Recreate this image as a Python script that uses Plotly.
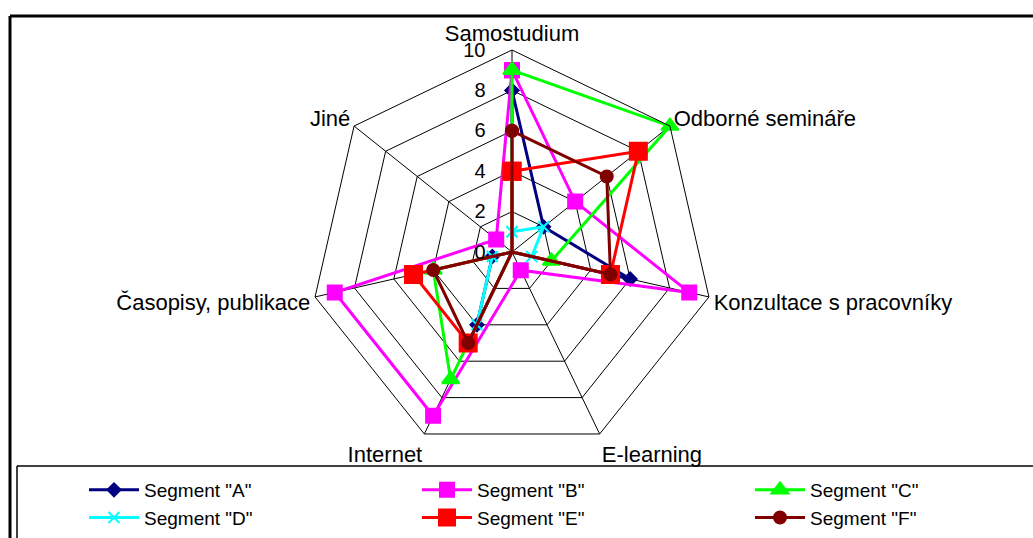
import plotly.graph_objects as go

# Categories around the radar (clockwise from the top)
categories = [
    "Samostudium",
    "Odborné semináře",
    "Konzultace s pracovníky",
    "E-learning",
    "Internet",
    "Časopisy, publikace",
    "Jiné",
]

# Scores per segment, in category order
seg_a = [8, 2, 6, 0, 4, 1, 0]
seg_b = [9, 4, 9, 1, 9, 9, 1]
seg_c = [9, 10, 2, 0, 7, 4, 0]
seg_d = [1, 2, 1, 0, 4, 1, 0]
seg_e = [4, 8, 5, 0, 5, 5, 0]
seg_f = [6, 6, 5, 0, 5, 4, 0]

series_names = ['Segment "A"', 'Segment "B"', 'Segment "C"',
                'Segment "D"', 'Segment "E"', 'Segment "F"']
series_values = [seg_a, seg_b, seg_c, seg_d, seg_e, seg_f]

radial_ticks = [0, 2, 4, 6, 8, 10]

styles = [
    dict(color="#000080", symbol="diamond", size=10),
    dict(color="#FF00FF", symbol="square", size=14),
    dict(color="#00FF00", symbol="triangle-up", size=15),
    dict(color="#00FFFF", symbol="x-thin-open", size=11),
    dict(color="#FF0000", symbol="square", size=17),
    dict(color="#800000", symbol="circle", size=12),
]

W, H = 1033, 538
FONT = "Liberation Sans, Arial, sans-serif"

fig = go.Figure()
for name, vals, st in zip(series_names, series_values, styles):
    fig.add_trace(go.Scatterpolar(
        r=vals + vals[:1],
        theta=categories + categories[:1],
        name=name,
        mode="lines+markers",
        line=dict(color=st["color"], width=3),
        marker=dict(symbol=st["symbol"], size=st["size"], color=st["color"],
                    line=dict(color=st["color"], width=2)),
    ))

# polar placement (pixels -> paper fractions)
cx, cy, R = 512, 252, 202
fig.update_layout(
    width=W, height=H,
    margin=dict(l=0, r=0, t=0, b=0, autoexpand=False),
    paper_bgcolor="white",
    plot_bgcolor="white",
    font=dict(family=FONT, color="black"),
    polar=dict(
        domain=dict(x=[(cx - R) / W, (cx + R) / W],
                    y=[1 - (cy + R) / H, 1 - (cy - R) / H]),
        bgcolor="white",
        gridshape="linear",
        radialaxis=dict(
            range=[0, 10],
            tickvals=radial_ticks,
            angle=90,
            tickangle=90,
            side="counterclockwise",
            showline=False,
            ticks="outside",
            ticklen=19,
            tickcolor="rgba(0,0,0,0)",
            gridcolor="black",
            gridwidth=1,
            tickfont=dict(size=20, color="black", family=FONT),
        ),
        angularaxis=dict(
            direction="clockwise",
            rotation=90,
            showline=True,
            linecolor="black",
            linewidth=1,
            gridcolor="black",
            gridwidth=1,
            ticks="",
            tickfont=dict(size=22, color="black", family=FONT),
        ),
    ),
    showlegend=True,
    legend=dict(
        orientation="h",
        x=84 / W, xanchor="left",
        y=1 - 471 / H, yanchor="top",
        itemwidth=50,
        entrywidth=268,
        entrywidthmode="pixels",
        font=dict(size=19, family=FONT, color="black"),
        bgcolor="rgba(0,0,0,0)",
        tracegroupgap=0,
        itemclick=False,
    ),
    shapes=[
        # outer frame (left and top edges)
        dict(type="line", xref="paper", yref="paper",
             x0=10 / W, x1=10 / W, y0=0, y1=1 - 16 / H,
             line=dict(color="black", width=3)),
        dict(type="line", xref="paper", yref="paper",
             x0=10 / W, x1=1, y0=1 - 16 / H, y1=1 - 16 / H,
             line=dict(color="black", width=3)),
        # legend box (left and top edges)
        dict(type="line", xref="paper", yref="paper",
             x0=17 / W, x1=17 / W, y0=0, y1=1 - 466 / H,
             line=dict(color="black", width=1.5)),
        dict(type="line", xref="paper", yref="paper",
             x0=17 / W, x1=1, y0=1 - 466 / H, y1=1 - 466 / H,
             line=dict(color="black", width=1.5)),
    ],
)

fig.write_html("out.html")
